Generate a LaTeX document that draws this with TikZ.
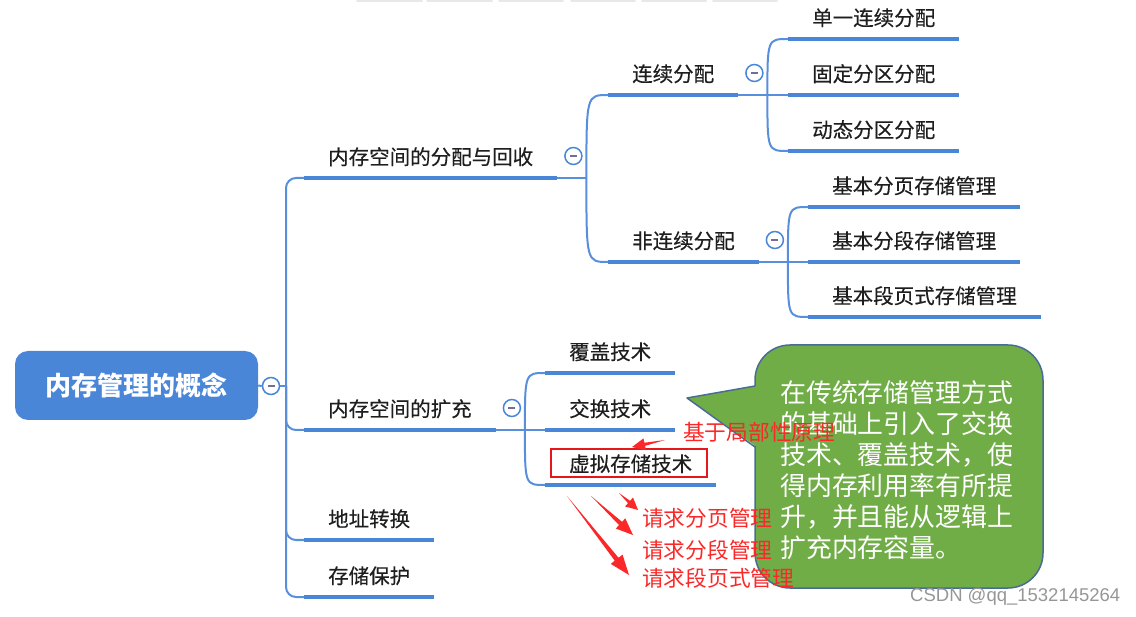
\documentclass[tikz,border=0pt]{standalone}
\usepackage{fontspec}
\setmainfont{Liberation Sans}
\newfontfamily\cjk{Noto Sans CJK SC}
\newfontfamily\cjkm[FakeBold=0.35]{Noto Sans CJK SC}
\usetikzlibrary{arrows.meta,calc}
\definecolor{mmblue}{RGB}{74,134,216}
\definecolor{lineblue}{RGB}{88,143,220}
\definecolor{txt}{RGB}{30,30,30}
\definecolor{annred}{RGB}{250,40,40}
\definecolor{boxred}{RGB}{228,24,24}
\definecolor{callgreen}{RGB}{112,173,71}
\definecolor{callborder}{RGB}{72,108,148}
\definecolor{wmgray}{RGB}{150,150,150}
\definecolor{minusgray}{RGB}{110,112,150}
\definecolor{toolbar}{RGB}{232,232,232}
% tapered arrow: #1 start, #2 end, #3 head length, #4 head half width, #5 shaft half width
\newcommand\taparrow[5]{%
  \fill[annred] (#1)
    -- ($(#2)!#3!(#1)!#5!90:(#1)$)
    -- ($(#2)!#3!(#1)!#4!90:(#1)$)
    -- (#2)
    -- ($(#2)!#3!(#1)!#4!-90:(#1)$)
    -- ($(#2)!#3!(#1)!#5!-90:(#1)$)
    -- cycle;}
\begin{document}
\begin{tikzpicture}[x=1pt,y=-1pt,
  topic/.style={anchor=south west, inner xsep=24pt, inner ysep=10.75pt,
    text height=18pt, text depth=2.5pt, text=txt,
    font=\cjkm\fontsize{20.5}{24}\selectfont},
  uline/.style={line width=4.5pt, mmblue},
  conn/.style={line width=2pt, lineblue},
  fold/.style={circle, draw=mmblue, fill=white, line width=1.5pt,
    minimum size=17pt, inner sep=0pt,
    path picture={\draw[line width=1.4pt, minusgray]
      ([xshift=-3.5pt]path picture bounding box.center) --
      ([xshift=3.5pt]path picture bounding box.center);}},
  rootbox/.style={rounded corners=13pt, fill=mmblue, text=white,
    minimum width=243pt, minimum height=69pt, inner sep=0pt,
    font=\cjk\bfseries\fontsize{26}{30}\selectfont},
  anno/.style={inner sep=0pt, text=annred, font=\cjk\fontsize{21.7}{26}\selectfont},
  callout/.style={fill=callgreen, draw=callborder, line width=1.5pt},
  calltext/.style={align=left, inner sep=0pt, text=white,
    font=\cjk\fontsize{25.9}{31}\selectfont},
  wmstyle/.style={inner sep=0pt, text=wmgray, font=\fontsize{18.5}{22}\selectfont}
]
\useasboundingbox (0,0) rectangle (1136,617);

% faint toolbar remnants at the top
\foreach \a/\b in {357/422,427/492,499/563,571/635,642/706,713/777}
  \draw[toolbar, line width=2pt, line cap=round] (\a,0.8) -- (\b,0.8);

% ---------- root ----------
\node[rootbox] (root) at (136.5,385.5) {内存管理的概念};
\node[fold] (f0) at (271,386) {};
\coordinate (t0) at (286,386);
\draw[conn] (root.east) -- (f0.west);
\draw[conn] (f0.east) -- (t0);

% ---------- level 1 ----------
\node[topic] (a1) at (304,178) {内存空间的分配与回收};
\node[topic] (a2) at (304,430) {内存空间的扩充};
\node[topic] (a3) at (304,540) {地址转换};
\node[topic] (a4) at (304,597) {存储保护};
\foreach \n in {a1,a2,a3,a4}{
  \draw[conn, rounded corners=10pt] (t0) |- (\n.south west);
  \draw[uline] (\n.south west) -- (\n.south east);
}

% ---------- children of a1 ----------
\node[fold] (f1) at ([shift={(16,-22)}]a1.south east) {};
\coordinate (b1) at ([xshift=29pt]a1.south east);
\draw[conn] (a1.south east) -- (b1);
\node[topic] (c1) at (608,95) {连续分配};
\node[topic] (c2) at (608,262) {非连续分配};
\foreach \n in {c1,c2}{
  \draw[conn] (b1) .. controls (b1 |- \n.south west) .. (\n.south west);
  \draw[uline] (\n.south west) -- (\n.south east);
}

% children of c1
\node[fold] (f2) at ([shift={(16,-22)}]c1.south east) {};
\coordinate (b2) at ([xshift=29pt]c1.south east);
\draw[conn] (c1.south east) -- (b2);
\node[topic] (d1) at (788,39) {单一连续分配};
\node[topic] (d2) at (788,95) {固定分区分配};
\node[topic] (d3) at (788,151) {动态分区分配};
\foreach \n in {d1,d2,d3}{
  \draw[conn] (b2) .. controls (b2 |- \n.south west) .. (\n.south west);
  \draw[uline] (\n.south west) -- (\n.south east);
}

% children of c2
\node[fold] (f3) at ([shift={(16,-22)}]c2.south east) {};
\coordinate (b3) at ([xshift=29pt]c2.south east);
\draw[conn] (c2.south east) -- (b3);
\node[topic] (e1) at (808,207) {基本分页存储管理};
\node[topic] (e2) at (808,262) {基本分段存储管理};
\node[topic] (e3) at (808,317) {基本段页式存储管理};
\foreach \n in {e1,e2,e3}{
  \draw[conn] (b3) .. controls (b3 |- \n.south west) .. (\n.south west);
  \draw[uline] (\n.south west) -- (\n.south east);
}

% ---------- children of a2 ----------
\node[fold] (f4) at ([shift={(16,-22)}]a2.south east) {};
\coordinate (b4) at ([xshift=29pt]a2.south east);
\draw[conn] (a2.south east) -- (b4);
\node[topic] (g1) at (545,373) {覆盖技术};
\node[topic] (g2) at (545,430) {交换技术};
\node[topic] (g3) at (545,485) {虚拟存储技术};
\foreach \n in {g1,g2,g3}{
  \draw[conn] (b4) .. controls (b4 |- \n.south west) .. (\n.south west);
  \draw[uline] (\n.south west) -- (\n.south east);
}

% red box around 虚拟存储技术
\node[draw=boxred, line width=2pt, minimum width=156pt, minimum height=28pt,
      inner sep=0pt] (vbox) at (629,463) {};

% ---------- callout ----------
\draw[callout, rounded corners=35pt] (755,345) rectangle (1043,588);
\fill[callgreen] (757,386) -- (687,398) -- (757,447) -- cycle;
\draw[callborder, line width=1.5pt, line join=round] (755,386) -- (687,398) -- (755,447);
\node[calltext, anchor=west] (ct) at (780,470.5)
  {在传统存储管理方式\\的基础上引入了交换\\技术、覆盖技术，使\\得内存利用率有所提\\升，并且能从逻辑上\\扩充内存容量。};

% ---------- red annotations ----------
\node[anno, anchor=west] (n1) at (683,432) {基于局部性原理};
\node[anno, anchor=west] (n2) at (642,518) {请求分页管理};
\node[anno, anchor=west] (n3) at (642,550) {请求分段管理};
\node[anno, anchor=west] (n4) at (642,578) {请求段页式管理};

\coordinate (p1s) at (665,440); \coordinate (p1e) at (632,447);
\coordinate (p2s) at (619,493); \coordinate (p2e) at (638,510);
\coordinate (p3s) at (591,496); \coordinate (p3e) at (633,535);
\coordinate (p4s) at (567,496); \coordinate (p4e) at (629,575);
\taparrow{p1s}{p1e}{13pt}{6pt}{1.6pt}
\taparrow{p2s}{p2e}{12pt}{6pt}{1.6pt}
\taparrow{p3s}{p3e}{17pt}{7pt}{2.2pt}
\taparrow{p4s}{p4e}{20pt}{7.5pt}{2.4pt}

% ---------- watermark ----------
\node[wmstyle, anchor=west] (wm) at (910,597) {CSDN @qq\_1532145264};
\end{tikzpicture}
\end{document}
